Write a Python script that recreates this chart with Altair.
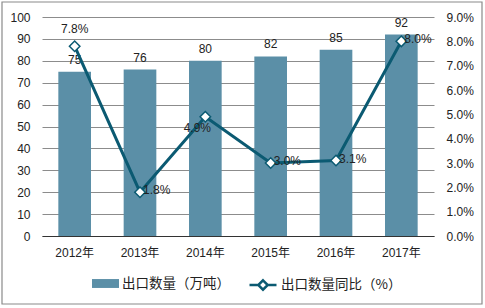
import altair as alt
import pandas as pd

years = ["2012年", "2013年", "2014年", "2015年", "2016年", "2017年"]
export_qty = [75, 76, 80, 82, 85, 92]
yoy_pct = [7.8, 1.8, 4.9, 3.0, 3.1, 8.0]

bar_name = "出口数量（万吨）"
line_name = "出口数量同比（%）"

df = pd.DataFrame({
    "year": years,
    "qty": export_qty,
    "yoy": [v / 100 for v in yoy_pct],
    "bar_s": bar_name,
    "line_s": line_name,
})

FONT = "Liberation Sans, Arial, Noto Sans CJK SC"
CJK = "Noto Sans CJK SC"
BAR_C = "#5b8fa7"
LINE_C = "#0b5a72"
TXT_C = "#222222"
W, H = 392, 219

x_enc = alt.X(
    "year:N", sort=years, title=None,
    scale=alt.Scale(paddingInner=0.5, paddingOuter=0.25),
    axis=alt.Axis(labelAngle=0, domainColor="#333333", domainWidth=1.2, ticks=False,
                  labelPadding=11, labelFontSize=12, labelColor=TXT_C, labelFont=FONT),
)

left_ticks = list(range(0, 101, 10))
right_ticks = [round(i / 100, 2) for i in range(0, 10)]

left_scale = alt.Scale(domain=[0, 100], nice=False)
right_scale = alt.Scale(domain=[0, 0.09], nice=False)

y_left_axis = alt.Y("qty:Q", title=None, scale=left_scale,
                    axis=alt.Axis(values=left_ticks, labelOverlap=False,
                                  grid=True, gridColor="#8c8c8c", domain=False, ticks=False,
                                  labelPadding=12, labelFontSize=12, labelColor=TXT_C, labelFont=FONT))
y_left_plain = alt.Y("qty:Q", title=None, scale=left_scale, axis=None)

y_right_axis = alt.Y("yoy:Q", title=None, scale=right_scale,
                     axis=alt.Axis(orient="right", values=right_ticks,
                                   labelOverlap=False, format=".1%", grid=False, domain=False,
                                   ticks=False, labelPadding=12, labelFontSize=12,
                                   labelColor=TXT_C, labelFont=FONT))
y_right_plain = alt.Y("yoy:Q", title=None, scale=right_scale, axis=None)

base = alt.Chart(df)

bars = base.mark_bar(color=BAR_C).encode(
    x=x_enc,
    y=y_left_axis,
    color=alt.Color("bar_s:N", scale=alt.Scale(range=[BAR_C]),
                    legend=alt.Legend(title=None, orient="none", legendX=50, legendY=253,
                                      symbolType="M-1,-0.33H1V0.33H-1Z", symbolSize=729,
                                      symbolStrokeWidth=0, labelFontSize=13.5, labelColor=TXT_C,
                                      labelFont=CJK, labelOffset=3)),
)

bar_text = base.mark_text(baseline="bottom", dy=-5, fontSize=12, color=TXT_C, font=FONT).encode(
    x=x_enc,
    y=y_left_plain,
    text=alt.Text("qty:Q"),
)

line = base.mark_line(strokeWidth=3).encode(
    x=x_enc,
    y=y_right_axis,
    stroke=alt.Stroke("line_s:N", scale=alt.Scale(range=[LINE_C]),
                      legend=alt.Legend(title=None, orient="none", legendX=206, legendY=253,
                                        symbolType="M-1,0H-0.35M0.35,0H1M0,-0.35L0.35,0L0,0.35L-0.35,0Z",
                                        symbolSize=729, symbolStrokeWidth=2.5,
                                        symbolFillColor="white", labelFontSize=13.5,
                                        labelColor=TXT_C, labelFont=CJK, labelOffset=3)),
)

pts = base.mark_point(shape="diamond", filled=True, fill="white", stroke=LINE_C,
                      strokeWidth=1.5, size=110, opacity=1).encode(
    x=x_enc,
    y=y_right_plain,
)

label_above = [years[0]]
label_below = [years[2]]

t_above = base.transform_filter(alt.FieldOneOfPredicate(field="year", oneOf=label_above)).mark_text(
    baseline="bottom", dy=-10, fontSize=12, color=TXT_C, font=FONT).encode(
    x=x_enc, y=y_right_plain, text=alt.Text("yoy:Q", format=".1%"),
)

t_below = base.transform_filter(alt.FieldOneOfPredicate(field="year", oneOf=label_below)).mark_text(
    align="center", baseline="middle", dx=-8, dy=11, fontSize=12, color=TXT_C, font=FONT).encode(
    x=x_enc, y=y_right_plain, text=alt.Text("yoy:Q", format=".1%"),
)

t_right = base.transform_filter(
    ~alt.FieldOneOfPredicate(field="year", oneOf=label_above + label_below)).mark_text(
    align="left", baseline="middle", dx=3, dy=-2, fontSize=12, color=TXT_C, font=FONT).encode(
    x=x_enc, y=y_right_plain, text=alt.Text("yoy:Q", format=".1%"),
)

frame = alt.Chart(pd.DataFrame({"a": [0]})).mark_rect(
    fillOpacity=0, stroke="#8a8a8a", strokeWidth=1.2).encode(
    x=alt.value(-40), x2=alt.value(440), y=alt.value(-15), y2=alt.value(287),
)

chart = alt.layer(frame, bars, bar_text, line, pts, t_above, t_below, t_right).resolve_scale(
    y="independent").properties(
    width=W, height=H,
    autosize=alt.AutoSizeParams(type="none"),
    padding={"left": 42, "top": 17, "right": 51, "bottom": 72},
    background="white",
).configure_view(stroke=None)

chart.save("out.html", embed_options={"renderer": "svg", "actions": False})
